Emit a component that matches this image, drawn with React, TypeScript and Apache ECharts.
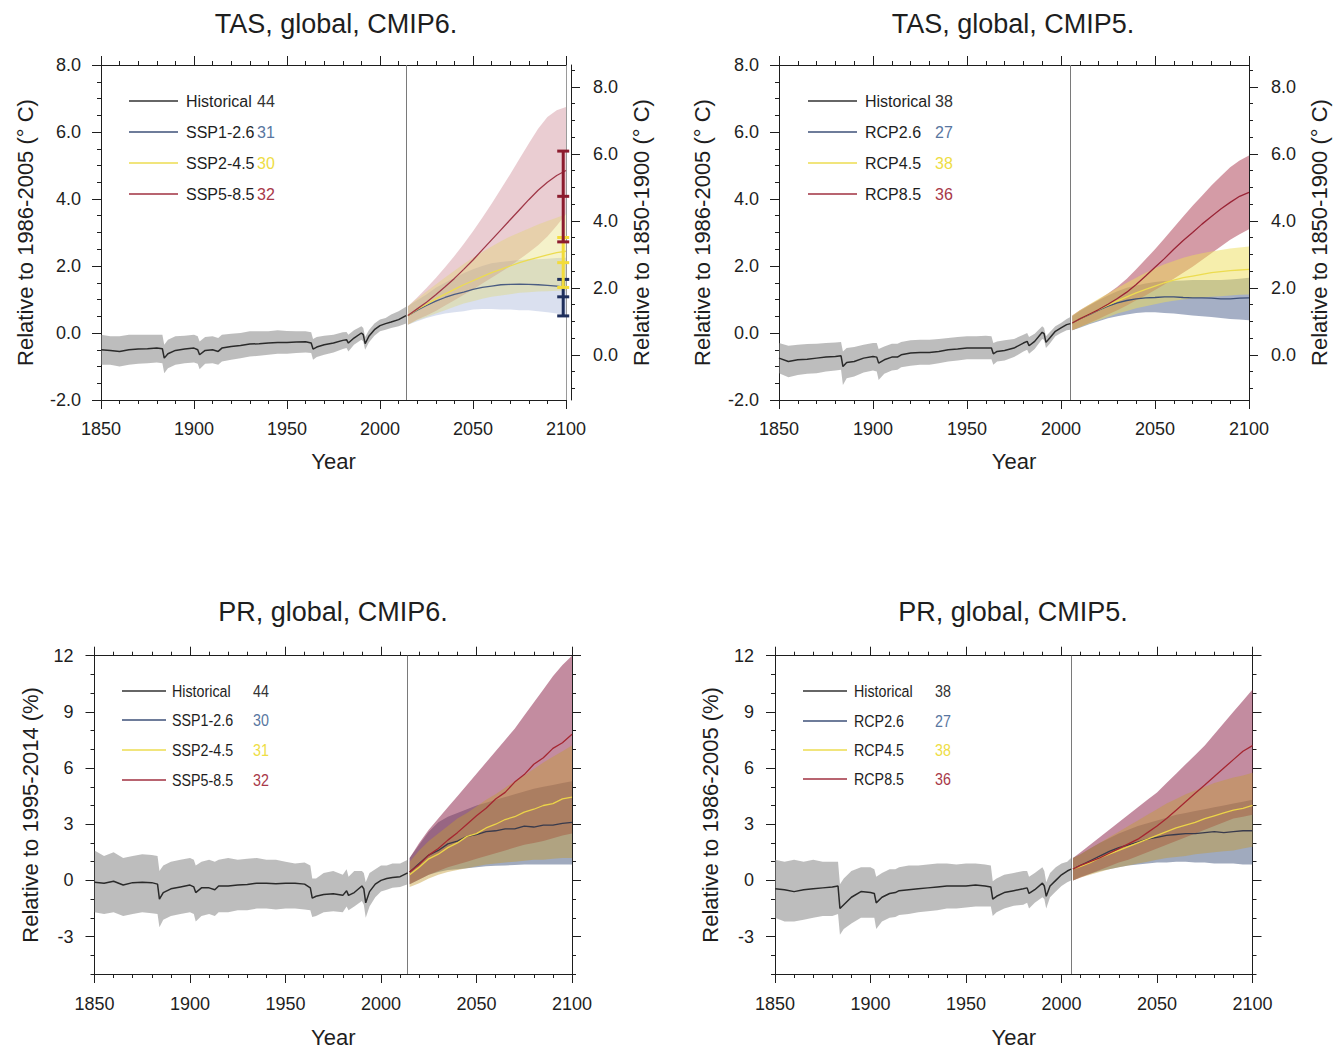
import React, { useEffect, useRef } from "react";
import * as echarts from "echarts";

const FONT = '"Liberation Sans", Arial, Helvetica, sans-serif';
const INK = "#1e1e1e";

// ---------------- tick values / labels ----------------
const X_RANGE = [1850, 2100];
const TAS_RANGE = [-2, 8];
const TAS_RIGHT_SHIFT = 0.65; // 1850-1900 baseline = 1986-2005 baseline + 0.65
const TAS_RIGHT_LABELS = [0, 2, 4, 6, 8];
const TAS_RIGHT_MINOR = [-1, -0.5, 0.5, 1, 1.5, 2.5, 3, 3.5, 4.5, 5, 5.5, 6.5, 7, 7.5, 8.5];
const PR_RANGE = [-5, 12];
const PR_LABELS = [-3, 0, 3, 6, 9, 12];

// ---------------- texts ----------------
const TITLES = ["TAS, global, CMIP6.", "TAS, global, CMIP5.", "PR, global, CMIP6.", "PR, global, CMIP5."];
const Y_NAMES = [
  "Relative to 1986-2005 (° C)",
  "Relative to 1986-2005 (° C)",
  "Relative to 1995-2014 (%)",
  "Relative to 1986-2005 (%)",
];
const Y_RIGHT_NAME = "Relative to 1850-1900 (° C)";
const X_NAME = "Year";
const CMIP6_NAMES = ["Historical", "SSP1-2.6", "SSP2-4.5", "SSP5-8.5"];
const CMIP5_NAMES = ["Historical", "RCP2.6", "RCP4.5", "RCP8.5"];
const TAS6_COUNTS = [44, 31, 30, 32];
const TAS5_COUNTS = [38, 27, 38, 36];
const PR6_COUNTS = [44, 30, 31, 32];
const PR5_COUNTS = [38, 27, 38, 36];
const DIVIDER6 = 2014;
const DIVIDER5 = 2005;

// ---------------- years ----------------
const H6_YEARS = [1850, 1855, 1860, 1865, 1870, 1875, 1880, 1883, 1884, 1886, 1890, 1895, 1900, 1902, 1903, 1906, 1910, 1913, 1915, 1920, 1925, 1930, 1935, 1940, 1945, 1950, 1955, 1960, 1963, 1964, 1966, 1970, 1975, 1980, 1982, 1983, 1986, 1990, 1991, 1992, 1994, 1997, 2000, 2003, 2006, 2010, 2014];
const H5_YEARS = [1850, 1855, 1860, 1865, 1870, 1875, 1880, 1883, 1884, 1886, 1890, 1895, 1900, 1902, 1903, 1906, 1910, 1913, 1915, 1920, 1925, 1930, 1935, 1940, 1945, 1950, 1955, 1960, 1963, 1964, 1966, 1970, 1975, 1980, 1982, 1983, 1986, 1990, 1991, 1992, 1994, 1997, 2000, 2003, 2005];
const S6_YEARS = [2015, 2020, 2025, 2030, 2035, 2040, 2045, 2050, 2055, 2060, 2065, 2070, 2075, 2080, 2085, 2090, 2095, 2100];
const S5_YEARS = [2006, 2010, 2015, 2020, 2025, 2030, 2035, 2040, 2045, 2050, 2055, 2060, 2065, 2070, 2075, 2080, 2085, 2090, 2095, 2100];

// ---------------- TAS CMIP6 ----------------
const TAS6_HIST_MEAN = [-0.5, -0.52, -0.55, -0.5, -0.48, -0.47, -0.45, -0.47, -0.75, -0.62, -0.52, -0.48, -0.45, -0.5, -0.65, -0.52, -0.5, -0.55, -0.45, -0.4, -0.37, -0.33, -0.32, -0.3, -0.28, -0.28, -0.27, -0.26, -0.3, -0.48, -0.42, -0.35, -0.3, -0.22, -0.2, -0.3, -0.15, 0.0, -0.05, -0.32, -0.1, 0.1, 0.22, 0.28, 0.33, 0.4, 0.52];
const TAS6_HIST_HI = [-0.05, -0.1, -0.1, -0.05, -0.05, -0.05, -0.05, -0.05, -0.35, -0.2, -0.1, -0.08, -0.05, -0.1, -0.25, -0.12, -0.1, -0.15, -0.05, -0.02, 0.0, 0.05, 0.05, 0.05, 0.08, 0.06, 0.05, 0.05, 0.02, -0.18, -0.12, -0.08, -0.05, 0.02, 0.03, -0.05, 0.08, 0.2, 0.15, -0.12, 0.08, 0.28, 0.4, 0.45, 0.55, 0.65, 0.78];
const TAS6_HIST_LO = [-0.95, -0.95, -1.0, -0.95, -0.92, -0.9, -0.88, -0.9, -1.2, -1.05, -0.95, -0.9, -0.88, -0.92, -1.08, -0.92, -0.9, -0.95, -0.85, -0.8, -0.75, -0.7, -0.68, -0.65, -0.62, -0.62, -0.6, -0.58, -0.6, -0.8, -0.72, -0.65, -0.58, -0.48, -0.45, -0.55, -0.35, -0.2, -0.25, -0.5, -0.28, -0.08, 0.05, 0.1, 0.15, 0.2, 0.28];
const TAS6_126_MEAN = [0.52, 0.68, 0.82, 0.95, 1.06, 1.15, 1.22, 1.3, 1.36, 1.4, 1.44, 1.45, 1.46, 1.45, 1.44, 1.42, 1.4, 1.36];
const TAS6_126_LO = [0.25, 0.35, 0.45, 0.52, 0.58, 0.62, 0.65, 0.7, 0.72, 0.72, 0.7, 0.7, 0.68, 0.68, 0.65, 0.62, 0.58, 0.52];
const TAS6_126_HI = [0.8, 0.98, 1.15, 1.35, 1.5, 1.65, 1.78, 1.9, 2.0, 2.08, 2.12, 2.15, 2.18, 2.2, 2.2, 2.22, 2.24, 2.25];
const TAS6_245_MEAN = [0.52, 0.7, 0.86, 1.02, 1.16, 1.3, 1.44, 1.56, 1.68, 1.8, 1.9, 2.0, 2.1, 2.18, 2.26, 2.33, 2.4, 2.44];
const TAS6_245_LO = [0.25, 0.38, 0.48, 0.58, 0.68, 0.78, 0.88, 0.95, 1.02, 1.08, 1.12, 1.16, 1.2, 1.22, 1.24, 1.25, 1.26, 1.26];
const TAS6_245_HI = [0.8, 1.02, 1.24, 1.45, 1.66, 1.86, 2.06, 2.25, 2.42, 2.58, 2.74, 2.88, 3.0, 3.12, 3.24, 3.34, 3.44, 3.55];
const TAS6_585_MEAN = [0.52, 0.72, 0.92, 1.14, 1.38, 1.63, 1.9, 2.18, 2.48, 2.78, 3.08, 3.38, 3.68, 3.98, 4.26, 4.5, 4.7, 4.85];
const TAS6_585_LO = [0.25, 0.4, 0.52, 0.66, 0.82, 0.98, 1.14, 1.3, 1.48, 1.65, 1.82, 2.0, 2.2, 2.4, 2.62, 2.88, 3.2, 3.55];
const TAS6_585_HI = [0.8, 1.06, 1.34, 1.64, 1.96, 2.3, 2.66, 3.04, 3.44, 3.86, 4.3, 4.74, 5.2, 5.66, 6.1, 6.45, 6.65, 6.75];
// 2100 ranges shown as bars: [low, median, high]
const TAS6_BAR_YEAR = 2098.5;
const TAS6_BAR_126 = [0.51, 1.08, 1.6];
const TAS6_BAR_245 = [1.36, 2.1, 2.85];
const TAS6_BAR_585 = [2.72, 4.08, 5.43];

// ---------------- TAS CMIP5 ----------------
const TAS5_HIST_MEAN = [-0.75, -0.85, -0.8, -0.78, -0.75, -0.72, -0.7, -0.68, -1.0, -0.88, -0.85, -0.75, -0.7, -0.72, -0.9, -0.8, -0.72, -0.72, -0.65, -0.6, -0.58, -0.58, -0.55, -0.5, -0.48, -0.45, -0.45, -0.45, -0.45, -0.62, -0.55, -0.52, -0.45, -0.3, -0.25, -0.38, -0.25, 0.02, -0.02, -0.28, -0.15, 0.05, 0.15, 0.25, 0.28];
const TAS5_HIST_HI = [-0.3, -0.38, -0.35, -0.33, -0.32, -0.3, -0.28, -0.27, -0.55, -0.45, -0.42, -0.35, -0.3, -0.3, -0.48, -0.4, -0.32, -0.32, -0.27, -0.22, -0.2, -0.2, -0.18, -0.15, -0.12, -0.1, -0.1, -0.08, -0.1, -0.3, -0.25, -0.22, -0.18, -0.05, 0.0, -0.12, -0.02, 0.2, 0.15, -0.1, 0.02, 0.2, 0.3, 0.42, 0.48];
const TAS5_HIST_LO = [-1.2, -1.32, -1.25, -1.22, -1.2, -1.15, -1.12, -1.1, -1.55, -1.35, -1.3, -1.18, -1.12, -1.15, -1.4, -1.22, -1.12, -1.1, -1.02, -0.98, -0.95, -0.95, -0.9, -0.85, -0.82, -0.78, -0.78, -0.78, -0.78, -0.95, -0.85, -0.82, -0.72, -0.55, -0.5, -0.62, -0.48, -0.18, -0.2, -0.45, -0.32, -0.1, 0.0, 0.08, 0.1];
const TAS5_26_MEAN = [0.3, 0.42, 0.55, 0.68, 0.8, 0.9, 0.97, 1.02, 1.05, 1.06, 1.08, 1.08, 1.06, 1.05, 1.05, 1.04, 1.02, 1.02, 1.04, 1.05];
const TAS5_26_LO = [0.08, 0.16, 0.26, 0.35, 0.44, 0.5, 0.55, 0.6, 0.62, 0.62, 0.6, 0.58, 0.55, 0.52, 0.5, 0.48, 0.45, 0.42, 0.4, 0.38];
const TAS5_26_HI = [0.5, 0.66, 0.82, 0.98, 1.12, 1.25, 1.35, 1.42, 1.48, 1.52, 1.55, 1.56, 1.57, 1.58, 1.58, 1.58, 1.58, 1.6, 1.62, 1.65];
const TAS5_45_MEAN = [0.3, 0.42, 0.56, 0.7, 0.83, 0.96, 1.08, 1.2, 1.3, 1.4, 1.5, 1.58, 1.65, 1.7, 1.75, 1.8, 1.83, 1.86, 1.88, 1.9];
const TAS5_45_LO = [0.08, 0.17, 0.28, 0.38, 0.48, 0.58, 0.66, 0.74, 0.8, 0.86, 0.92, 0.96, 1.0, 1.04, 1.06, 1.08, 1.1, 1.12, 1.14, 1.15];
const TAS5_45_HI = [0.52, 0.68, 0.85, 1.02, 1.18, 1.34, 1.5, 1.65, 1.8, 1.93, 2.05, 2.15, 2.25, 2.32, 2.38, 2.43, 2.48, 2.52, 2.55, 2.58];
const TAS5_85_MEAN = [0.3, 0.42, 0.56, 0.7, 0.86, 1.03, 1.22, 1.45, 1.7, 1.96, 2.22, 2.5, 2.76, 3.0, 3.25, 3.48, 3.7, 3.9, 4.08, 4.2];
const TAS5_85_LO = [0.08, 0.18, 0.3, 0.42, 0.55, 0.68, 0.82, 0.98, 1.12, 1.28, 1.45, 1.62, 1.8, 1.98, 2.18, 2.38, 2.58, 2.78, 2.95, 3.1];
const TAS5_85_HI = [0.52, 0.68, 0.84, 1.0, 1.18, 1.38, 1.62, 1.9, 2.2, 2.5, 2.82, 3.15, 3.48, 3.8, 4.1, 4.4, 4.68, 4.95, 5.15, 5.3];

// ---------------- PR CMIP6 ----------------
const PR6_HIST_MEAN = [-0.1, -0.15, -0.05, -0.25, -0.12, -0.1, -0.12, -0.2, -1.0, -0.65, -0.45, -0.35, -0.25, -0.35, -0.65, -0.4, -0.4, -0.5, -0.3, -0.3, -0.25, -0.22, -0.15, -0.15, -0.18, -0.15, -0.15, -0.2, -0.4, -0.95, -0.85, -0.75, -0.72, -0.8, -0.55, -0.8, -0.65, -0.3, -0.45, -1.2, -0.6, -0.2, 0.0, 0.1, 0.15, 0.2, 0.4];
const PR6_HIST_HI = [1.6, 1.3, 1.5, 1.2, 1.3, 1.4, 1.35, 1.3, 0.5, 0.8, 1.0, 1.1, 1.2, 1.1, 0.8, 1.0, 1.1, 1.0, 1.1, 1.2, 1.1, 1.15, 1.2, 1.1, 1.1, 1.0, 0.9, 0.95, 0.8, 0.1, 0.1, 0.4, 0.5, 0.3, 0.6, 0.2, 0.5, 0.5, 0.4, -0.1, 0.4, 0.6, 0.8, 0.8, 0.9, 0.9, 1.1];
const PR6_HIST_LO = [-1.7, -1.8, -1.7, -1.9, -1.8, -1.7, -1.75, -1.8, -2.5, -2.1, -1.9, -1.8, -1.7, -1.8, -2.2, -1.9, -1.8, -1.9, -1.7, -1.7, -1.6, -1.6, -1.5, -1.5, -1.55, -1.5, -1.5, -1.55, -1.6, -1.95, -1.9, -1.7, -1.65, -1.7, -1.4, -1.6, -1.4, -1.1, -1.3, -2.0, -1.4, -0.9, -0.6, -0.5, -0.4, -0.35, -0.2];
const PR6_126_MEAN = [0.45, 0.9, 1.35, 1.6, 1.95, 2.1, 2.35, 2.45, 2.6, 2.65, 2.75, 2.75, 2.9, 2.85, 2.95, 2.95, 3.05, 3.1];
const PR6_126_LO = [-0.2, 0.05, 0.3, 0.45, 0.55, 0.6, 0.65, 0.7, 0.75, 0.78, 0.8, 0.82, 0.85, 0.85, 0.85, 0.85, 0.85, 0.85];
const PR6_126_HI = [1.2, 1.9, 2.6, 3.1, 3.4, 3.6, 3.8, 4.0, 4.15, 4.3, 4.45, 4.6, 4.75, 4.9, 5.0, 5.1, 5.2, 5.3];
const PR6_245_MEAN = [0.3, 0.7, 1.15, 1.4, 1.75, 2.0, 2.35, 2.5, 2.8, 3.0, 3.25, 3.4, 3.65, 3.8, 4.0, 4.1, 4.35, 4.45];
const PR6_245_LO = [-0.35, -0.15, 0.1, 0.3, 0.45, 0.55, 0.65, 0.75, 0.85, 0.9, 0.95, 1.0, 1.05, 1.1, 1.1, 1.15, 1.2, 1.2];
const PR6_245_HI = [1.0, 1.6, 2.1, 2.5, 2.9, 3.3, 3.6, 3.95, 4.3, 4.6, 4.95, 5.3, 5.6, 5.95, 6.3, 6.6, 6.9, 7.2];
const PR6_585_MEAN = [0.45, 0.85, 1.35, 1.7, 2.15, 2.55, 3.0, 3.45, 3.85, 4.35, 4.7, 5.25, 5.65, 6.2, 6.55, 7.05, 7.35, 7.8];
const PR6_585_LO = [-0.2, 0.05, 0.3, 0.5, 0.7, 0.85, 1.0, 1.15, 1.3, 1.45, 1.6, 1.75, 1.9, 2.0, 2.1, 2.25, 2.4, 2.5];
const PR6_585_HI = [1.2, 2.0, 2.7, 3.3, 3.9, 4.5, 5.1, 5.7, 6.3, 6.9, 7.5, 8.1, 8.8, 9.5, 10.2, 10.9, 11.5, 12.0];

// ---------------- PR CMIP5 ----------------
const PR5_HIST_MEAN = [-0.45, -0.5, -0.6, -0.5, -0.45, -0.4, -0.35, -0.3, -1.5, -1.3, -0.9, -0.6, -0.65, -0.7, -1.2, -0.9, -0.7, -0.65, -0.55, -0.5, -0.45, -0.4, -0.35, -0.3, -0.3, -0.3, -0.25, -0.3, -0.35, -1.0, -0.85, -0.65, -0.55, -0.45, -0.4, -0.7, -0.5, -0.15, -0.3, -0.85, -0.3, 0.0, 0.3, 0.5, 0.6];
const PR5_HIST_HI = [1.1, 1.0, 1.1, 1.0, 1.1, 1.0, 1.0, 1.0, -0.2, 0.1, 0.5, 0.7, 0.7, 0.6, 0.2, 0.4, 0.6, 0.6, 0.7, 0.8, 0.8, 0.85, 0.9, 0.9, 0.85, 0.9, 0.9, 0.85, 0.8, -0.05, 0.1, 0.3, 0.4, 0.5, 0.5, 0.2, 0.4, 0.7, 0.5, -0.1, 0.4, 0.7, 0.9, 1.0, 1.2];
const PR5_HIST_LO = [-2.0, -2.2, -2.2, -2.1, -2.0, -1.9, -1.9, -1.8, -2.9, -2.6, -2.3, -2.0, -2.0, -2.0, -2.6, -2.2, -2.0, -1.95, -1.85, -1.8, -1.7, -1.65, -1.6, -1.5, -1.5, -1.45, -1.4, -1.4, -1.4, -1.9, -1.7, -1.5, -1.35, -1.3, -1.2, -1.5, -1.2, -0.9, -1.0, -1.5, -0.9, -0.6, -0.3, -0.1, 0.0];
const PR5_26_MEAN = [0.6, 0.8, 1.05, 1.3, 1.55, 1.75, 1.9, 2.05, 2.2, 2.3, 2.4, 2.45, 2.5, 2.5, 2.55, 2.6, 2.55, 2.6, 2.65, 2.65];
const PR5_26_LO = [0.0, 0.2, 0.35, 0.5, 0.6, 0.7, 0.8, 0.85, 0.9, 0.95, 0.95, 1.0, 1.0, 0.95, 0.95, 0.9, 0.9, 0.9, 0.85, 0.85];
const PR5_26_HI = [1.2, 1.4, 1.7, 2.0, 2.25, 2.5, 2.7, 2.9, 3.05, 3.2, 3.35, 3.5, 3.6, 3.7, 3.8, 3.9, 4.0, 4.1, 4.2, 4.3];
const PR5_45_MEAN = [0.6, 0.75, 0.95, 1.2, 1.4, 1.6, 1.8, 2.0, 2.2, 2.4, 2.6, 2.8, 2.95, 3.1, 3.3, 3.45, 3.6, 3.75, 3.85, 4.0];
const PR5_45_LO = [0.0, 0.15, 0.3, 0.45, 0.6, 0.7, 0.8, 0.9, 1.0, 1.1, 1.2, 1.25, 1.3, 1.4, 1.45, 1.5, 1.55, 1.6, 1.7, 1.8];
const PR5_45_HI = [1.2, 1.4, 1.7, 2.0, 2.3, 2.6, 2.9, 3.2, 3.5, 3.8, 4.1, 4.35, 4.6, 4.8, 5.0, 5.2, 5.35, 5.5, 5.6, 5.75];
const PR5_85_MEAN = [0.6, 0.8, 1.0, 1.2, 1.45, 1.7, 1.95, 2.2, 2.55, 2.9, 3.3, 3.75, 4.2, 4.65, 5.1, 5.55, 6.0, 6.45, 6.9, 7.2];
const PR5_85_LO = [0.0, 0.15, 0.35, 0.55, 0.75, 0.95, 1.1, 1.3, 1.5, 1.7, 1.9, 2.1, 2.3, 2.5, 2.7, 2.9, 3.1, 3.3, 3.4, 3.5];
const PR5_85_HI = [1.2, 1.5, 1.9, 2.3, 2.7, 3.1, 3.5, 3.9, 4.3, 4.7, 5.2, 5.7, 6.2, 6.7, 7.2, 7.8, 8.4, 9.0, 9.6, 10.2];

// ---------------- styles ----------------
const HIST_LINE = "#2a2a2a";
const HIST_BAND = "rgba(135,135,135,0.55)";
const LEGEND_LINE = ["#333333", "#3e5078", "#ecdc50", "#a03040"];
const COUNT_COLOR = ["#333333", "#5876a0", "#eedd44", "#a83848"];
const PR_BLUE_BAND = "rgba(44,66,111,0.45)";
const PR_YELLOW_BAND = "rgba(195,155,55,0.45)";
const PR_RED_BAND = "rgba(146,46,82,0.55)";

type Scen = { mean: number[]; lo: number[]; hi: number[]; line: string; band: string };
type Panel = {
  kind: "tas" | "pr";
  layout: { left: number; top: number; width: number; height: number };
  title: [number, number];
  hist: { years: number[]; mean: number[]; lo: number[]; hi: number[] };
  scenYears: number[];
  scen: Scen[]; // order: low, mid, high
  divider: number;
  names: string[];
  counts: number[];
  legend: { x0: number; x1: number; tx: number; cx: number; ys: number[]; size: number; sx: number };
  yName: string;
  yNameGap: number;
  rightOffset?: number;
  rightNameGap?: number;
  mirror?: boolean;
  bars?: { year: number; vals: number[]; color: string }[];
  labelMargin: number;
};

const PANELS: Panel[] = [
  {
    kind: "tas",
    layout: { left: 101, top: 65, width: 465, height: 335 },
    title: [336, 24],
    hist: { years: H6_YEARS, mean: TAS6_HIST_MEAN, lo: TAS6_HIST_LO, hi: TAS6_HIST_HI },
    scenYears: S6_YEARS,
    scen: [
      { mean: TAS6_126_MEAN, lo: TAS6_126_LO, hi: TAS6_126_HI, line: "#4a5c82", band: "rgba(140,160,205,0.32)" },
      { mean: TAS6_245_MEAN, lo: TAS6_245_LO, hi: TAS6_245_HI, line: "#ecdc50", band: "rgba(225,215,90,0.32)" },
      { mean: TAS6_585_MEAN, lo: TAS6_585_LO, hi: TAS6_585_HI, line: "#a03848", band: "rgba(190,100,115,0.32)" },
    ],
    divider: DIVIDER6,
    names: CMIP6_NAMES,
    counts: TAS6_COUNTS,
    legend: { x0: 129, x1: 178, tx: 186, cx: 257, ys: [101, 132, 163, 194], size: 16, sx: 1 },
    yName: Y_NAMES[0],
    yNameGap: 65,
    rightOffset: 5,
    rightNameGap: 59,
    mirror: true,
    bars: [
      { year: TAS6_BAR_YEAR, vals: TAS6_BAR_126, color: "#1f2f5c" },
      { year: TAS6_BAR_YEAR, vals: TAS6_BAR_245, color: "#f3dc3a" },
      { year: TAS6_BAR_YEAR, vals: TAS6_BAR_585, color: "#8c1c2e" },
    ],
    labelMargin: 20,
  },
  {
    kind: "tas",
    layout: { left: 779, top: 65, width: 470, height: 335 },
    title: [1013, 24],
    hist: { years: H5_YEARS, mean: TAS5_HIST_MEAN, lo: TAS5_HIST_LO, hi: TAS5_HIST_HI },
    scenYears: S5_YEARS,
    scen: [
      { mean: TAS5_26_MEAN, lo: TAS5_26_LO, hi: TAS5_26_HI, line: "#3e5078", band: "rgba(75,95,140,0.5)" },
      { mean: TAS5_45_MEAN, lo: TAS5_45_LO, hi: TAS5_45_HI, line: "#ecdc50", band: "rgba(238,222,90,0.5)" },
      { mean: TAS5_85_MEAN, lo: TAS5_85_LO, hi: TAS5_85_HI, line: "#9a2436", band: "rgba(165,45,70,0.48)" },
    ],
    divider: DIVIDER5,
    names: CMIP5_NAMES,
    counts: TAS5_COUNTS,
    legend: { x0: 808, x1: 857, tx: 865, cx: 935, ys: [101, 132, 163, 194], size: 16, sx: 1 },
    yName: Y_NAMES[1],
    yNameGap: 66,
    rightOffset: 0,
    rightNameGap: 59,
    labelMargin: 20,
  },
  {
    kind: "pr",
    layout: { left: 94.5, top: 655.7, width: 477.5, height: 318.3 },
    title: [333, 612],
    hist: { years: H6_YEARS, mean: PR6_HIST_MEAN, lo: PR6_HIST_LO, hi: PR6_HIST_HI },
    scenYears: S6_YEARS,
    scen: [
      { mean: PR6_126_MEAN, lo: PR6_126_LO, hi: PR6_126_HI, line: "#383a4c", band: PR_BLUE_BAND },
      { mean: PR6_245_MEAN, lo: PR6_245_LO, hi: PR6_245_HI, line: "#ecd448", band: PR_YELLOW_BAND },
      { mean: PR6_585_MEAN, lo: PR6_585_LO, hi: PR6_585_HI, line: "#a52630", band: PR_RED_BAND },
    ],
    divider: DIVIDER6,
    names: CMIP6_NAMES,
    counts: PR6_COUNTS,
    legend: { x0: 122, x1: 166, tx: 172, cx: 253, ys: [691, 720, 750, 780], size: 17, sx: 0.84 },
    yName: Y_NAMES[2],
    yNameGap: 53,
    labelMargin: 21,
  },
  {
    kind: "pr",
    layout: { left: 775, top: 655.7, width: 477.5, height: 318.3 },
    title: [1013, 612],
    hist: { years: H5_YEARS, mean: PR5_HIST_MEAN, lo: PR5_HIST_LO, hi: PR5_HIST_HI },
    scenYears: S5_YEARS,
    scen: [
      { mean: PR5_26_MEAN, lo: PR5_26_LO, hi: PR5_26_HI, line: "#383a4c", band: PR_BLUE_BAND },
      { mean: PR5_45_MEAN, lo: PR5_45_LO, hi: PR5_45_HI, line: "#ecd448", band: PR_YELLOW_BAND },
      { mean: PR5_85_MEAN, lo: PR5_85_LO, hi: PR5_85_HI, line: "#a52630", band: PR_RED_BAND },
    ],
    divider: DIVIDER5,
    names: CMIP5_NAMES,
    counts: PR5_COUNTS,
    legend: { x0: 803, x1: 847, tx: 854, cx: 935, ys: [691, 721, 750, 779], size: 17, sx: 0.84 },
    yName: Y_NAMES[3],
    yNameGap: 54,
    labelMargin: 21,
  },
];

const AXIS_LINE = { color: INK, width: 1 };
const LABEL_STYLE = { fontSize: 18, color: INK, fontFamily: FONT };
const NAME_STYLE = { fontSize: 22, color: INK, fontFamily: FONT };

function bandSeries(xi: number, yi: number, years: number[], lo: number[], hi: number[], color: string, z: number) {
  const data = years.map((y, i) => [y, lo[i], hi[i]]);
  return {
    type: "custom",
    xAxisIndex: xi,
    yAxisIndex: yi,
    z,
    silent: true,
    data,
    encode: { x: 0, y: [1, 2] },
    renderItem: (params: any, api: any) => {
      if (params.dataIndex !== 0) return null;
      const upper = data.map((d) => api.coord([d[0], d[2]]));
      const lower = data.map((d) => api.coord([d[0], d[1]])).reverse();
      return { type: "polygon", shape: { points: upper.concat(lower) }, style: { fill: color } };
    },
  };
}

function lineSeries(xi: number, yi: number, years: number[], vals: number[], color: string, width: number, z: number, extra: any = {}) {
  return {
    type: "line",
    xAxisIndex: xi,
    yAxisIndex: yi,
    z,
    silent: true,
    showSymbol: false,
    symbol: "none",
    data: years.map((y, i) => [y, vals[i]]),
    lineStyle: { color, width },
    ...extra,
  };
}

function barSeries(xi: number, yi: number, bar: { year: number; vals: number[]; color: string }, z: number) {
  return {
    type: "custom",
    xAxisIndex: xi,
    yAxisIndex: yi,
    z,
    silent: true,
    clip: false,
    data: [[bar.year, bar.vals[0], bar.vals[1], bar.vals[2]]],
    encode: { x: 0, y: [1, 2, 3] },
    renderItem: (_p: any, api: any) => {
      const x = api.value(0);
      const a = api.coord([x, api.value(1)]);
      const m = api.coord([x, api.value(2)]);
      const b = api.coord([x, api.value(3)]);
      const w = 6;
      const st = { stroke: bar.color, lineWidth: 3 };
      return {
        type: "group",
        children: [
          { type: "line", shape: { x1: a[0], y1: a[1], x2: b[0], y2: b[1] }, style: st },
          { type: "line", shape: { x1: a[0] - w, y1: a[1], x2: a[0] + w, y2: a[1] }, style: st },
          { type: "line", shape: { x1: m[0] - w, y1: m[1], x2: m[0] + w, y2: m[1] }, style: st },
          { type: "line", shape: { x1: b[0] - w, y1: b[1], x2: b[0] + w, y2: b[1] }, style: st },
        ],
      };
    },
  };
}

function buildOption() {
  const grid: any[] = [];
  const xAxis: any[] = [];
  const yAxis: any[] = [];
  const series: any[] = [];
  const graphic: any[] = [];

  PANELS.forEach((p, gi) => {
    grid.push({ ...p.layout, containLabel: false });
    const xb = xAxis.length;
    const commonX = {
      type: "value",
      gridIndex: gi,
      min: X_RANGE[0],
      max: X_RANGE[1],
      interval: 50,
      axisLine: { show: true, onZero: false, lineStyle: AXIS_LINE },
      axisTick: { show: true, inside: false, length: 9, lineStyle: AXIS_LINE },
      minorTick: { show: true, splitNumber: 5, length: 4, lineStyle: AXIS_LINE },
      splitLine: { show: false },
      minorSplitLine: { show: false },
    };
    xAxis.push({
      ...commonX,
      position: "bottom",
      axisLabel: { ...LABEL_STYLE, margin: p.labelMargin, formatter: (v: number) => String(v) },
      name: X_NAME,
      nameLocation: "middle",
      nameGap: p.kind === "tas" ? 50 : 52,
      nameTextStyle: NAME_STYLE,
    });
    xAxis.push({ ...commonX, position: "top", axisLabel: { show: false } });

    const yMain = yAxis.length;
    if (p.kind === "tas") {
      yAxis.push({
        type: "value",
        gridIndex: gi,
        position: "left",
        min: TAS_RANGE[0],
        max: TAS_RANGE[1],
        interval: 2,
        axisLine: { show: true, onZero: false, lineStyle: AXIS_LINE },
        axisTick: { show: true, inside: false, length: 9, lineStyle: AXIS_LINE },
        minorTick: { show: true, splitNumber: 4, length: 4, lineStyle: AXIS_LINE },
        axisLabel: { ...LABEL_STYLE, margin: 20, formatter: (v: number) => v.toFixed(1) },
        splitLine: { show: false },
        minorSplitLine: { show: false },
        name: p.yName,
        nameLocation: "middle",
        nameRotate: 90,
        nameGap: p.yNameGap,
        nameTextStyle: NAME_STYLE,
      });
      if (p.mirror) {
        yAxis.push({
          type: "value",
          gridIndex: gi,
          position: "right",
          min: TAS_RANGE[0],
          max: TAS_RANGE[1],
          axisLine: { show: true, onZero: false, lineStyle: { color: "#9a9a9a", width: 1 } },
          axisTick: { show: false },
          axisLabel: { show: false },
          splitLine: { show: false },
        });
      }
      const rMin = TAS_RANGE[0] + TAS_RIGHT_SHIFT;
      const rMax = TAS_RANGE[1] + TAS_RIGHT_SHIFT;
      yAxis.push({
        type: "value",
        gridIndex: gi,
        position: "right",
        offset: p.rightOffset || 0,
        min: rMin,
        max: rMax,
        axisLine: { show: true, onZero: false, lineStyle: AXIS_LINE },
        axisTick: { show: true, inside: false, length: 9, lineStyle: AXIS_LINE, customValues: TAS_RIGHT_LABELS },
        axisLabel: { ...LABEL_STYLE, margin: 22, customValues: TAS_RIGHT_LABELS, formatter: (v: number) => v.toFixed(1) },
        splitLine: { show: false },
        name: Y_RIGHT_NAME,
        nameLocation: "middle",
        nameRotate: 90,
        nameGap: p.rightNameGap,
        nameTextStyle: NAME_STYLE,
      });
      yAxis.push({
        type: "value",
        gridIndex: gi,
        position: "right",
        offset: p.rightOffset || 0,
        min: rMin,
        max: rMax,
        axisLine: { show: false },
        axisTick: { show: true, inside: false, length: 4, lineStyle: AXIS_LINE, customValues: TAS_RIGHT_MINOR },
        axisLabel: { show: false },
        splitLine: { show: false },
      });
    } else {
      const base = {
        type: "value",
        gridIndex: gi,
        min: PR_RANGE[0],
        max: PR_RANGE[1],
        splitLine: { show: false },
      };
      yAxis.push({
        ...base,
        position: "left",
        axisLine: { show: true, onZero: false, lineStyle: AXIS_LINE },
        axisTick: { show: true, inside: false, length: 9, lineStyle: AXIS_LINE, customValues: PR_LABELS },
        axisLabel: { ...LABEL_STYLE, margin: 21, customValues: PR_LABELS, formatter: (v: number) => String(v) },
        name: p.yName,
        nameLocation: "middle",
        nameRotate: 90,
        nameGap: p.yNameGap,
        nameTextStyle: NAME_STYLE,
      });
      yAxis.push({
        ...base,
        position: "left",
        interval: 1,
        axisLine: { show: false },
        axisTick: { show: true, inside: false, length: 4, lineStyle: AXIS_LINE },
        axisLabel: { show: false },
      });
      yAxis.push({
        ...base,
        position: "right",
        axisLine: { show: true, onZero: false, lineStyle: AXIS_LINE },
        axisTick: { show: true, inside: false, length: 9, lineStyle: AXIS_LINE, customValues: PR_LABELS },
        axisLabel: { show: false },
      });
      yAxis.push({
        ...base,
        position: "right",
        interval: 1,
        axisLine: { show: false },
        axisTick: { show: true, inside: false, length: 4, lineStyle: AXIS_LINE },
        axisLabel: { show: false },
      });
    }

    // bands: historical, low, high, mid (mid drawn over high)
    const h = p.hist;
    series.push(bandSeries(xb, yMain, h.years, h.lo, h.hi, HIST_BAND, 1));
    series.push(bandSeries(xb, yMain, p.scenYears, p.scen[0].lo, p.scen[0].hi, p.scen[0].band, 2));
    series.push(bandSeries(xb, yMain, p.scenYears, p.scen[2].lo, p.scen[2].hi, p.scen[2].band, 3));
    series.push(bandSeries(xb, yMain, p.scenYears, p.scen[1].lo, p.scen[1].hi, p.scen[1].band, 4));

    series.push(
      lineSeries(xb, yMain, h.years, h.mean, HIST_LINE, 1.5, 6, {
        markLine: {
          silent: true,
          symbol: ["none", "none"],
          label: { show: false },
          emphasis: { disabled: true },
          lineStyle: { color: "#7a7a7a", width: 1, type: "solid" },
          data: [{ xAxis: p.divider }],
        },
      })
    );
    p.scen.forEach((s, si) => {
      series.push(lineSeries(xb, yMain, p.scenYears, s.mean, s.line, 1.3, 6 + si));
    });
    if (p.bars) {
      p.bars.forEach((b, bi) => series.push(barSeries(xb, yMain, b, 12 + bi)));
    }

    // title
    graphic.push({
      type: "text",
      x: p.title[0],
      y: p.title[1],
      style: {
        text: TITLES[gi],
        font: `27px ${FONT}`,
        fill: INK,
        textAlign: "center",
        align: "center",
        textVerticalAlign: "middle",
        verticalAlign: "middle",
      },
    });
    // legend
    const L = p.legend;
    p.names.forEach((nm, k) => {
      const y = L.ys[k];
      graphic.push({
        type: "line",
        shape: { x1: L.x0, y1: y, x2: L.x1, y2: y },
        style: { stroke: LEGEND_LINE[k], lineWidth: 1.6 },
      });
      graphic.push({
        type: "text",
        x: L.tx,
        y,
        scaleX: L.sx,
        style: { text: nm, font: `${L.size}px ${FONT}`, fill: INK, textVerticalAlign: "middle", verticalAlign: "middle" },
      });
      graphic.push({
        type: "text",
        x: L.cx,
        y,
        scaleX: L.sx,
        style: { text: String(p.counts[k]), font: `${L.size}px ${FONT}`, fill: COUNT_COLOR[k], textVerticalAlign: "middle", verticalAlign: "middle" },
      });
    });
  });

  return {
    animation: false,
    backgroundColor: "#ffffff",
    textStyle: { fontFamily: FONT },
    grid,
    xAxis,
    yAxis,
    series,
    graphic,
  };
}

export default function App() {
  const ref = useRef<HTMLDivElement | null>(null);
  useEffect(() => {
    if (!ref.current) return;
    const chart = echarts.init(ref.current, undefined, { renderer: "svg" });
    chart.setOption(buildOption() as any);
    return () => chart.dispose();
  }, []);
  return (
    <div
      ref={ref}
      style={{ position: "absolute", left: 0, top: 0, width: 1333, height: 1050, background: "#fff" }}
    />
  );
}
